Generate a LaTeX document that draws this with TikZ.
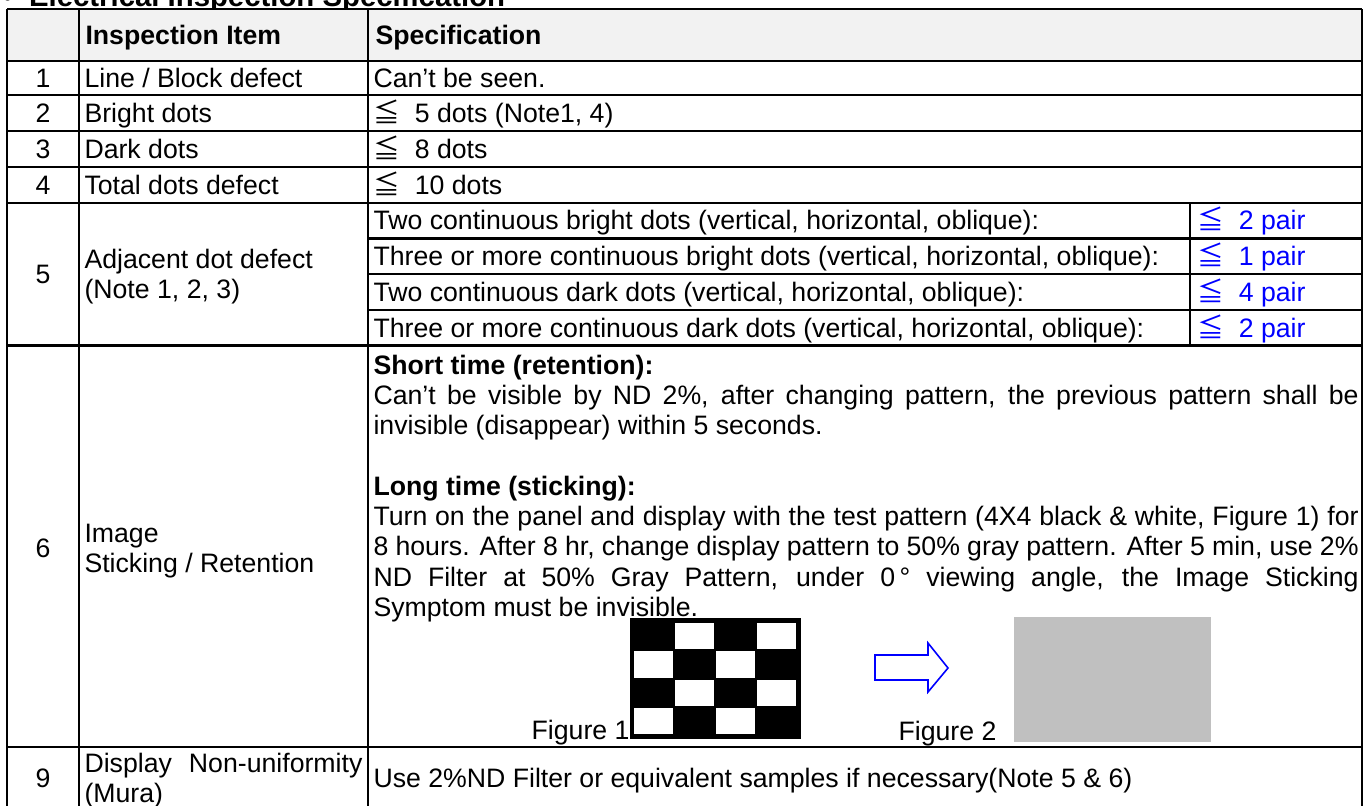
\documentclass[tikz,border=0pt]{standalone}
\usepackage{fontspec}
\setmainfont{Liberation Sans}
\newfontfamily\cjk{Noto Sans CJK SC}
\usepackage{xcolor}
\usetikzlibrary{positioning}
\definecolor{headgray}{HTML}{F2F2F2}
\definecolor{panelgray}{HTML}{C0C0C0}
\newcommand{\cjkle}{{\cjk ≦}\hspace{0.55em}}
\newcommand{\fullline}[1]{\makebox[369.4pt][s]{#1}}

\begin{document}
\begin{tikzpicture}[x=0.375pt,y=-0.375pt,
  txt/.style={anchor=base west,inner sep=0pt,font=\fontsize{10}{12}\selectfont},
  num/.style={anchor=base,inner sep=0pt,font=\fontsize{10}{12}\selectfont},
  head/.style={txt,font=\fontsize{10}{12}\selectfont\bfseries},
  pair/.style={txt,text=blue},
  rule/.style={line width=0.85pt}]
\useasboundingbox (0,0) rectangle (1364,805);
\clip (0,0) rectangle (1364,805);

\node[anchor=base west,inner sep=0pt,font=\fontsize{11}{13}\selectfont\bfseries] (title) at (2,6) {•\ \ Electrical Inspection Specification};

\fill[headgray] (7,9) rectangle (1362,61);
\foreach \y in {9,61,95,131,167,203,345.5,747}
  \draw[rule] (7,\y) -- (1362,\y);
\foreach \y in {238.5,274,310}
  \draw[rule] (368,\y) -- (1362,\y);
\foreach \x in {7,79,368,1362}
  \draw[rule] (\x,9) -- (\x,830);
\draw[rule] (1190,203) -- (1190,345.5);

\node[head] (item) at (85,44) {Inspection Item};
\node[head] (spec) at (375,44) {Specification};

\node[num] (n1) at (43,87) {1};
\node[txt] (i1) at (84,87) {Line / Block defect};
\node[txt] (s1) at (373,87) {Can’t be seen.};
\node[num] (n2) at (43,122) {2};
\node[txt] (i2) at (84,122) {Bright dots};
\node[txt] (s2) at (373,122) {\cjkle 5 dots (Note1, 4)};
\node[num] (n3) at (43,158) {3};
\node[txt] (i3) at (84,158) {Dark dots};
\node[txt] (s3) at (373,158) {\cjkle 8 dots};
\node[num] (n4) at (43,194) {4};
\node[txt] (i4) at (84,194) {Total dots defect};
\node[txt] (s4) at (373,194) {\cjkle 10 dots};

\node[num] (n5) at (43,283) {5};
\node[txt] (i5a) at (84,268) {Adjacent dot defect};
\node[txt] (i5b) at (84,298) {(Note 1, 2, 3)};
\node[txt] (s5a) at (373,229.5) {Two continuous bright dots (vertical, horizontal, oblique):};
\node[pair] (p5a) at (1197,229.5) {\cjkle 2 pair};
\node[txt] (s5b) at (373,265) {Three or more continuous bright dots (vertical, horizontal, oblique):};
\node[pair] (p5b) at (1197,265) {\cjkle 1 pair};
\node[txt] (s5c) at (373,301) {Two continuous dark dots (vertical, horizontal, oblique):};
\node[pair] (p5c) at (1197,301) {\cjkle 4 pair};
\node[txt] (s5d) at (373,337) {Three or more continuous dark dots (vertical, horizontal, oblique):};
\node[pair] (p5d) at (1197,337) {\cjkle 2 pair};

\node[num] (n6) at (43,557) {6};
\node[txt] (i6a) at (84,542) {Image};
\node[txt] (i6b) at (84,572) {Sticking / Retention};
\node[txt] (short) at (373,374) {\bfseries Short time (retention):};
\node[txt] (s6a) at (373,404.3) {\fullline{Can’t be visible by ND 2\%, after changing pattern, the previous pattern shall be}};
\node[txt] (s6b) at (373,434.6) {invisible (disappear) within 5 seconds.};
\node[txt] (long) at (373,495.2) {\bfseries Long time (sticking):};
\node[txt] (s6c) at (373,525.5) {\fullline{Turn on the panel and display with the test pattern (4X4 black \& white, Figure 1) for}};
\node[txt] (s6d) at (373,555.8) {\fullline{8 hours. After 8 hr, change display pattern to 50\% gray pattern. After 5 min, use 2\%}};
\node[txt] (s6e) at (373,586.1) {\fullline{ND Filter at 50\% Gray Pattern, under 0\,° viewing angle, the Image Sticking}};
\node[txt] (s6f) at (373,616.4) {Symptom must be invisible.};

\fill[black] (630,618) rectangle (801,739);
\foreach \c/\r in {1/0,3/0,0/1,2/1,1/2,3/2,0/3,2/3}
  \fill[white] ({634+41*\c},{623+28.25*\r}) rectangle ++(39,26.25);
\coordinate (board) at (630,739);
\node[txt,anchor=base east] (fig1) at (board) {Figure 1};
\draw[blue,line width=0.6pt] (875,655) -- (928,655) -- (928,643) -- (948,668)
  -- (928,692) -- (928,680) -- (875,680) -- cycle;
\fill[panelgray] (1014,617) rectangle (1211,742);
\node[txt] (fig2) at (898,740) {Figure 2};

\node[num] (n9) at (43,787) {9};
\node[txt] (i9a) at (84,772) {\makebox[104.2pt][s]{Display Non-uniformity}};
\node[txt] (i9b) at (84,802) {(Mura)};
\node[txt] (s9) at (373,787) {Use 2\%ND Filter or equivalent samples if necessary(Note 5 \& 6)};
\end{tikzpicture}
\end{document}
